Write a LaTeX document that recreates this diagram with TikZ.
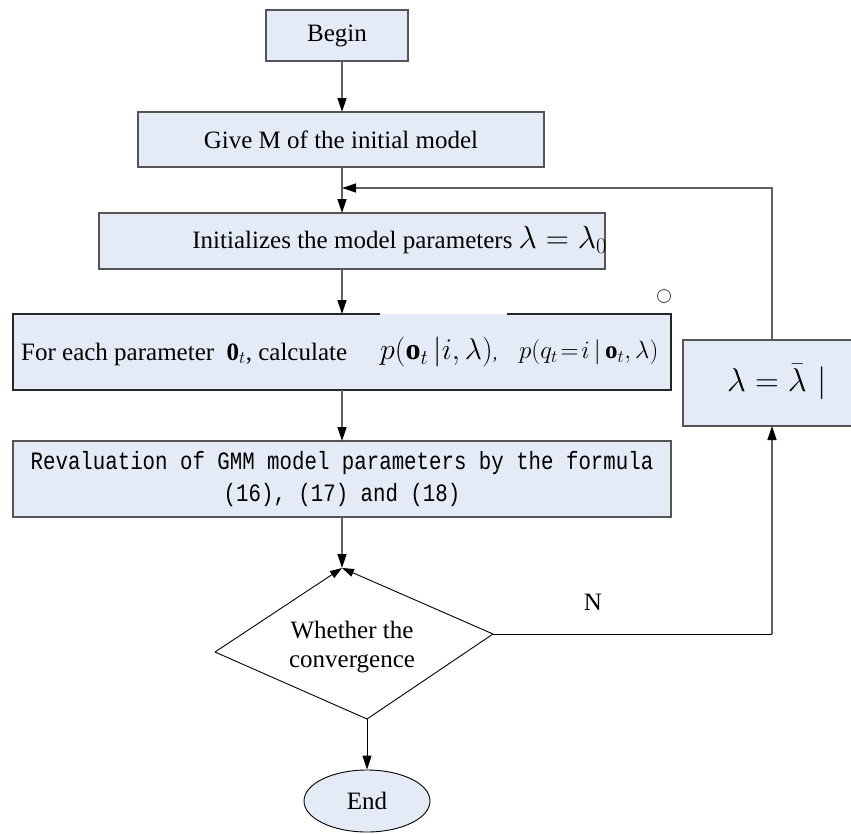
\RequirePackage{fix-cm}
\documentclass[tikz,border=0pt]{standalone}
\usepackage{fontspec}
\setmainfont{Liberation Serif}
\newfontfamily\revfont[FakeStretch=0.83]{Liberation Mono}
\usetikzlibrary{arrows.meta,shapes.geometric}
\definecolor{boxfill}{HTML}{E4EBF6}
\definecolor{boxline}{HTML}{555555}
\definecolor{lineg}{HTML}{606060}
\begin{document}
\begin{tikzpicture}[x=1pt,y=-1pt,
  box/.style={draw=boxline, fill=boxfill, line width=1.2pt, inner sep=0pt, outer sep=0pt},
  conn/.style={draw=lineg, line width=1.3pt},
  tip/.style={-{Triangle[length=14pt,width=9pt,color=black]}},
  arr/.style={conn, tip},
  thinl/.style={draw=black, line width=0.9pt},
  txt/.style={font=\fontsize{25}{29}\selectfont, inner sep=0pt},
  bigm/.style={font=\fontsize{30}{34}\selectfont, inner sep=0pt}]
\useasboundingbox (0,0) rectangle (851,833);
\clip (0,0) rectangle (851,833);

% boxes
\node[box, minimum width=142, minimum height=51] (begin) at (337,35.5) {};
\node[txt] (tbegin) at (begin) {Begin};
\node[box, minimum width=406, minimum height=55] (givem) at (341,139.5) {};
\node[txt] (tgivem) at (givem) {Give M of the initial model};
\node[box, minimum width=506, minimum height=56] (init) at (352,241) {};
\node[txt, anchor=east] (tinit) at (607,240) {Initializes the model parameters \fontsize{32}{36}\selectfont$\lambda=\lambda_0$};

% for-each box (top border interrupted)
\node[fill=boxfill, inner sep=0pt, outer sep=0pt, minimum width=658, minimum height=76] (foreach) at (342,352) {};
\draw[draw=black!85, line width=1.2pt] (foreach.north west) ++(367,0) -- (foreach.north west) -- (foreach.south west) -- (foreach.south east) -- (foreach.north east) -- ++(-164,0);
\node[txt, anchor=west] (tfe) at (21,354) {For each parameter \ $\mathbf{0}_{t}$, calculate};
\node[bigm, anchor=west] (tfe2) at (380,352) {$p(\mathbf{o}_t\,\big|i,\lambda)$\fontsize{18}{20}\selectfont,};
\node[txt, anchor=west] (tfe3) at (519,352) {$p(q_t\!=\!i\,|\,\mathbf{o}_t,\lambda)$};

\node[box, minimum width=658, minimum height=76] (reval) at (342,479) {};
\node[font=\revfont\fontsize{25}{32}\selectfont, align=center, inner sep=0pt] (treval) at (342,479)
  {Revaluation of GMM model parameters by the formula\\(16), (17) and (18)};

\node[box, minimum width=240, minimum height=86] (lbar) at (803,383) {};
\node[font=\fontsize{33}{36}\selectfont, inner sep=0pt] (tlbar) at (777,382) {$\lambda=\bar{\lambda}$\,\,$|$};

\node[draw=black!75, circle, minimum size=13pt, inner sep=0pt, line width=0.8pt] (dot) at (664,296) {};

% diamond
\coordinate (dT) at (342,568);
\coordinate (dR) at (493,634);
\coordinate (dB) at (367,719);
\coordinate (dL) at (215,652);
\draw[thinl] (dR) -- (dB) -- (dL);
\draw[thinl, -{Triangle[length=12pt,width=8pt]}] (dL) -- (dT);
\draw[thinl, -{Triangle[length=12pt,width=8pt]}] (dR) -- (dT);
\node[txt, align=center] (cond) at (352,647) {Whether the\\convergence};

\node[ellipse, draw=black, fill=boxfill, line width=0.9pt, minimum width=126pt, minimum height=62pt, inner sep=0pt] (end) at (367,801) {};
\node[txt] (tend) at (end) {End};

% connectors
\coordinate (fbtop) at (772,188);
\draw[arr] (begin.south -| foreach.north) -- (givem.north -| foreach.north);
\draw[arr] (givem.south -| foreach.north) -- (init.north -| foreach.north);
\draw[arr] (lbar.north -| fbtop) -- (fbtop) -- (fbtop -| foreach.north);
\draw[arr] (init.south -| foreach.north) -- (foreach.north);
\draw[arr] (foreach.south) -- (reval.north);
\draw[arr] (reval.south -| dT) -- (dT);
\draw[thinl] (dR) -- (dR -| fbtop);
\draw[arr] (dR -| fbtop) -- (lbar.south -| fbtop);
\draw[arr, draw=black, line width=1pt] (dB) -- (end.north);
\node[txt] (nlab) at (593,602) {N};
\end{tikzpicture}
\end{document}
